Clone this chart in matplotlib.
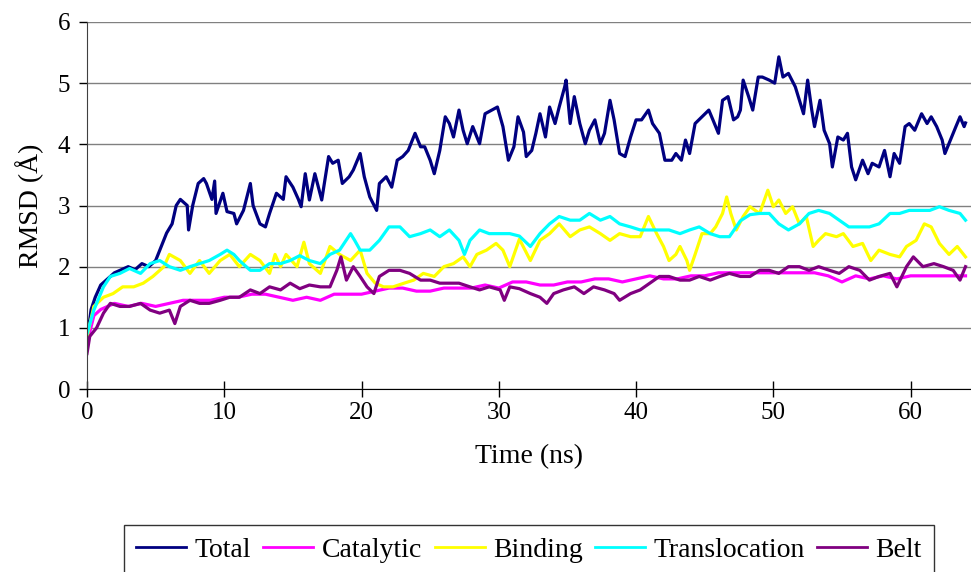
import matplotlib
matplotlib.use("Agg")
import matplotlib.pyplot as plt

plt.rcParams['font.family'] = ['Liberation Serif', 'DejaVu Serif']

# RMSD traces (Angstrom) against simulation time (ns)
t_total = [0, 0.3, 0.6, 1.0, 1.5, 2.0, 2.5, 3.0, 3.5, 4.0, 4.5, 5.0, 5.3, 5.8, 6.2, 6.5, 6.8, 7.3, 7.4, 7.7,
           8.1, 8.5, 8.7, 9.1, 9.3, 9.4, 9.9, 10.2, 10.7, 10.9, 11.4, 11.9, 12.1, 12.6, 13.0, 13.3, 13.8, 14.3,
           14.5, 15.0, 15.4, 15.6, 15.9, 16.2, 16.6, 17.1, 17.6, 17.9, 18.3, 18.6, 19.1, 19.4, 19.9, 20.2,
           20.6, 21.1, 21.3, 21.8, 22.2, 22.6, 23.0, 23.4, 23.9, 24.3, 24.6, 25.0, 25.3, 25.7, 26.1, 26.4,
           26.7, 27.1, 27.4, 27.7, 28.1, 28.6, 29.0, 29.5, 29.9, 30.3, 30.7, 31.1, 31.4, 31.8, 32.0, 32.4,
           32.7, 33.0, 33.4, 33.7, 34.1, 34.4, 34.8, 34.9, 35.2, 35.5, 35.9, 36.3, 36.6, 37.0, 37.4, 37.7,
           38.1, 38.4, 38.8, 39.2, 39.6, 40.0, 40.4, 40.9, 41.2, 41.7, 42.1, 42.6, 42.9, 43.3, 43.6, 43.9,
           44.3, 44.8, 45.3, 45.6, 46.0, 46.3, 46.7, 47.1, 47.4, 47.6, 47.8, 48.2, 48.5, 48.9, 49.2, 49.7,
           50.1, 50.4, 50.7, 51.1, 51.6, 51.9, 52.2, 52.5, 52.8, 53.0, 53.4, 53.7, 54.1, 54.3, 54.7, 55.1,
           55.4, 55.7, 56.0, 56.5, 56.9, 57.2, 57.7, 58.1, 58.5, 58.8, 59.2, 59.6, 59.9, 60.3, 60.8, 61.2,
           61.5, 61.9, 62.3, 62.5, 62.9, 63.3, 63.6, 63.9, 64.0]
total = [0.8, 1.3, 1.5, 1.7, 1.8, 1.9, 1.95, 2.0, 1.95, 2.05, 2.0, 2.1, 2.27, 2.55, 2.7, 3.0, 3.1, 3.0, 2.6, 3.0,
         3.36, 3.44, 3.36, 3.1, 3.4, 2.87, 3.2, 2.9, 2.87, 2.7, 2.92, 3.36, 3.0, 2.7, 2.65, 2.87, 3.2, 3.1,
         3.47, 3.3, 3.1, 2.98, 3.52, 3.09, 3.52, 3.09, 3.8, 3.69, 3.74, 3.36, 3.47, 3.58, 3.85, 3.47,
         3.14, 2.92, 3.36, 3.47, 3.3, 3.74, 3.8, 3.9, 4.18, 3.96, 3.96, 3.74, 3.52, 3.9, 4.45, 4.34,
         4.12, 4.56, 4.23, 4.01, 4.29, 4.01, 4.5, 4.56, 4.61, 4.29, 3.74, 3.96, 4.45, 4.2, 3.8, 3.9,
         4.18, 4.5, 4.12, 4.61, 4.34, 4.61, 4.94, 5.05, 4.34, 4.78, 4.34, 4.01, 4.23, 4.4, 4.01, 4.18,
         4.72, 4.4, 3.85, 3.8, 4.12, 4.4, 4.4, 4.56, 4.34, 4.18, 3.74, 3.74, 3.85, 3.74, 4.07, 3.85,
         4.34, 4.45, 4.56, 4.4, 4.18, 4.72, 4.78, 4.4, 4.45, 4.56, 5.05, 4.78, 4.56, 5.1, 5.1, 5.05,
         5.0, 5.43, 5.1, 5.16, 4.94, 4.72, 4.5, 5.05, 4.56, 4.29, 4.72, 4.23, 4.01, 3.63, 4.12, 4.07,
         4.18, 3.63, 3.42, 3.74, 3.52, 3.69, 3.63, 3.9, 3.47, 3.85, 3.69, 4.29, 4.34, 4.23, 4.5, 4.34,
         4.45, 4.29, 4.07, 3.85, 4.07, 4.29, 4.45, 4.29, 4.35]

t_catalytic = [0, 0.5, 1, 2, 3, 4, 5, 6, 7, 8, 9, 10, 11, 12, 13, 14, 15, 16, 17, 18, 19, 20, 21, 22, 23, 24,
               25, 26, 27, 28, 29, 30, 31, 32, 33, 34, 35, 36, 37, 38, 39, 40, 41, 42, 43, 44, 45, 46, 47, 48,
               49, 50, 51, 52, 53, 54, 55, 56, 57, 58, 59, 60, 61, 62, 63, 64]
catalytic = [0.75, 1.2, 1.3, 1.4, 1.35, 1.4, 1.35, 1.4, 1.45, 1.45, 1.45, 1.5, 1.5, 1.55, 1.55, 1.5, 1.45,
             1.5, 1.45, 1.55, 1.55, 1.55, 1.6, 1.65, 1.65, 1.6, 1.6, 1.65, 1.65, 1.65, 1.7, 1.65, 1.75,
             1.75, 1.7, 1.7, 1.75, 1.75, 1.8, 1.8, 1.75, 1.8, 1.85, 1.8, 1.8, 1.85, 1.85, 1.9, 1.9, 1.9,
             1.9, 1.9, 1.9, 1.9, 1.9, 1.85, 1.75, 1.85, 1.8, 1.85, 1.8, 1.85, 1.85, 1.85, 1.85, 1.85]

t_binding = [0, 0.5, 1.2, 1.9, 2.6, 3.4, 4.1, 4.8, 5.6, 6.0, 6.8, 7.5, 8.2, 8.9, 9.7, 10.4, 11.1, 11.9, 12.6,
             13.3, 13.7, 14.1, 14.5, 15.3, 15.8, 16.2, 17.0, 17.7, 18.4, 19.2, 19.9, 20.4, 21.0, 21.6, 22.3,
             23.1, 23.8, 24.5, 25.3, 26.0, 26.7, 27.4, 27.9, 28.4, 29.1, 29.8, 30.3, 30.8, 31.5, 32.3, 33.0,
             33.7, 34.4, 35.2, 35.9, 36.6, 37.4, 38.1, 38.8, 39.6, 40.3, 40.9, 41.5, 42.0, 42.4, 42.9, 43.2,
             43.7, 43.9, 44.3, 44.8, 45.4, 45.8, 46.3, 46.6, 46.9, 47.3, 47.8, 48.3, 49.0, 49.6, 50.0, 50.4,
             50.9, 51.4, 51.9, 52.4, 52.9, 53.3, 53.8, 54.6, 55.1, 55.8, 56.5, 57.1, 57.7, 58.5, 59.2, 59.7,
             60.4, 61.0, 61.5, 62.1, 62.8, 63.4, 64.0]
binding = [0.85, 1.35, 1.5, 1.56, 1.67, 1.67, 1.73, 1.84, 2.0, 2.2, 2.1, 1.89, 2.1, 1.89, 2.1, 2.2, 2.0, 2.2,
           2.1, 1.89, 2.2, 2.0, 2.2, 2.0, 2.4, 2.05, 1.89, 2.33, 2.2, 2.1, 2.27, 1.89, 1.73, 1.67, 1.67,
           1.73, 1.78, 1.89, 1.84, 2.0, 2.05, 2.16, 2.0, 2.2, 2.27, 2.38, 2.27, 2.0, 2.45, 2.1, 2.43,
           2.54, 2.7, 2.49, 2.6, 2.65, 2.54, 2.43, 2.54, 2.49, 2.49, 2.82, 2.54, 2.33, 2.1, 2.2, 2.33,
           2.1, 1.94, 2.2, 2.54, 2.54, 2.65, 2.87, 3.14, 2.87, 2.6, 2.82, 2.98, 2.87, 3.25, 2.98, 3.09,
           2.87, 2.98, 2.7, 2.82, 2.33, 2.43, 2.54, 2.49, 2.54, 2.33, 2.38, 2.1, 2.27, 2.2, 2.16, 2.33,
           2.43, 2.7, 2.65, 2.38, 2.2, 2.33, 2.16]

t_transloc = [0, 0.5, 1.2, 1.7, 2.4, 3.1, 3.9, 4.6, 5.3, 6.0, 6.8, 7.5, 8.2, 8.9, 9.7, 10.2, 10.7, 11.1, 11.9,
              12.6, 13.3, 14.1, 14.8, 15.5, 16.2, 17.0, 17.7, 18.4, 19.2, 19.5, 19.9, 20.6, 21.3, 22.0, 22.8,
              23.5, 24.3, 25.0, 25.7, 26.4, 27.1, 27.5, 27.9, 28.6, 29.3, 30.1, 30.8, 31.5, 32.3, 33.0, 33.7,
              34.4, 35.2, 35.9, 36.6, 37.4, 38.1, 38.8, 39.6, 40.3, 41.0, 41.7, 42.4, 43.2, 43.9, 44.6, 45.4,
              46.1, 46.8, 47.6, 48.3, 49.0, 49.7, 50.4, 51.1, 51.9, 52.6, 53.3, 54.1, 54.8, 55.5, 56.3, 57.0,
              57.7, 58.5, 59.2, 59.9, 60.6, 61.4, 62.1, 62.8, 63.6, 64.0]
transloc = [0.9, 1.29, 1.67, 1.84, 1.89, 1.97, 1.89, 2.05, 2.1, 2.0, 1.94, 2.0, 2.05, 2.1, 2.2, 2.27, 2.2, 2.1,
            1.94, 1.94, 2.05, 2.05, 2.1, 2.18, 2.1, 2.05, 2.2, 2.27, 2.54, 2.43, 2.27, 2.27, 2.43, 2.65,
            2.65, 2.49, 2.54, 2.6, 2.49, 2.6, 2.43, 2.2, 2.43, 2.6, 2.54, 2.54, 2.54, 2.5, 2.33, 2.54, 2.7,
            2.82, 2.76, 2.76, 2.87, 2.76, 2.82, 2.7, 2.65, 2.6, 2.6, 2.6, 2.6, 2.54, 2.6, 2.65, 2.54, 2.49,
            2.49, 2.75, 2.85, 2.87, 2.87, 2.7, 2.6, 2.7, 2.87, 2.92, 2.87, 2.76, 2.65, 2.65, 2.65, 2.7,
            2.87, 2.87, 2.92, 2.92, 2.92, 2.98, 2.92, 2.87, 2.76]

t_belt = [0, 0.2, 0.7, 1.2, 1.7, 2.4, 3.1, 3.9, 4.6, 5.3, 6.0, 6.4, 6.8, 7.5, 8.2, 8.9, 9.7, 10.4, 11.1, 11.9,
          12.6, 13.3, 14.1, 14.8, 15.5, 16.2, 17.0, 17.7, 18.2, 18.5, 18.9, 19.4, 19.9, 20.4, 20.9, 21.3,
          22.0, 22.8, 23.5, 24.3, 25.0, 25.7, 26.4, 27.1, 27.9, 28.6, 29.3, 30.1, 30.4, 30.8, 31.5, 32.3,
          33.0, 33.5, 34.0, 34.7, 35.5, 36.2, 36.9, 37.7, 38.4, 38.8, 39.6, 40.3, 41.0, 41.7, 42.4, 43.2,
          43.9, 44.6, 45.4, 46.1, 46.8, 47.6, 48.3, 49.0, 49.7, 50.4, 51.1, 51.9, 52.6, 53.3, 54.1, 54.8,
          55.5, 56.3, 57.0, 57.7, 58.5, 59.0, 59.7, 60.2, 60.9, 61.7, 62.4, 63.1, 63.6, 64.0]
belt = [0.58, 0.86, 1.0, 1.24, 1.4, 1.35, 1.35, 1.4, 1.29, 1.24, 1.29, 1.07, 1.35, 1.45, 1.4, 1.4, 1.45, 1.5,
        1.5, 1.62, 1.56, 1.67, 1.62, 1.73, 1.64, 1.7, 1.67, 1.67, 1.94, 2.16, 1.78, 2.0, 1.84, 1.67, 1.56,
        1.84, 1.94, 1.94, 1.89, 1.78, 1.78, 1.73, 1.73, 1.73, 1.67, 1.62, 1.67, 1.62, 1.45, 1.67, 1.64,
        1.56, 1.5, 1.4, 1.56, 1.62, 1.67, 1.56, 1.67, 1.62, 1.56, 1.45, 1.56, 1.62, 1.73, 1.84, 1.84,
        1.78, 1.78, 1.84, 1.78, 1.84, 1.89, 1.84, 1.84, 1.94, 1.94, 1.89, 2.0, 2.0, 1.94, 2.0, 1.94,
        1.89, 2.0, 1.94, 1.78, 1.84, 1.89, 1.67, 2.0, 2.16, 2.0, 2.05, 2.0, 1.94, 1.78, 2.0]

fig = plt.figure(figsize=(9.71, 5.72), dpi=100)
ax = fig.add_axes([87 / 971, 1 - 389 / 572, 1 - 87 / 971, (389 - 22) / 572])

lw = 2.3
ax.plot(t_total, total, color='#000080', lw=lw, label='Total')
ax.plot(t_catalytic, catalytic, color='#FF00FF', lw=lw, label='Catalytic')
ax.plot(t_binding, binding, color='#FFFF00', lw=lw, label='Binding')
ax.plot(t_transloc, transloc, color='#00FFFF', lw=lw, label='Translocation')
ax.plot(t_belt, belt, color='#800080', lw=lw, label='Belt')

ax.set_xlim(0, 64.4)
ax.set_ylim(0, 6)
ax.set_xticks(range(0, 61, 10))
ax.set_yticks(range(0, 7))
ax.yaxis.grid(True, color='#808080', lw=1)
ax.set_axisbelow(True)

for side in ('top', 'right'):
    ax.spines[side].set_visible(False)
ax.spines['left'].set_color('#404040')
ax.spines['bottom'].set_color('black')

ax.tick_params(axis='x', direction='inout', length=11, width=1, labelsize=18, pad=4)
ax.tick_params(axis='y', direction='out', length=6, width=1, labelsize=18, pad=6)

ax.set_xlabel('Time (ns)', fontsize=20, labelpad=14)
ax.set_ylabel('RMSD (Å)', fontsize=20, labelpad=10)

leg = fig.legend(loc='upper center', bbox_to_anchor=(529 / 971, 1 - 525 / 572), ncol=5,
                 fontsize=20, frameon=True, fancybox=False, shadow=False, borderaxespad=0,
                 handlelength=1.8, handletextpad=0.3, columnspacing=0.45, borderpad=0.45)
leg.get_frame().set_edgecolor('black')
leg.get_frame().set_linewidth(1)
for line in leg.get_lines():
    line.set_linewidth(2)

fig.savefig('out.png', dpi=100)
